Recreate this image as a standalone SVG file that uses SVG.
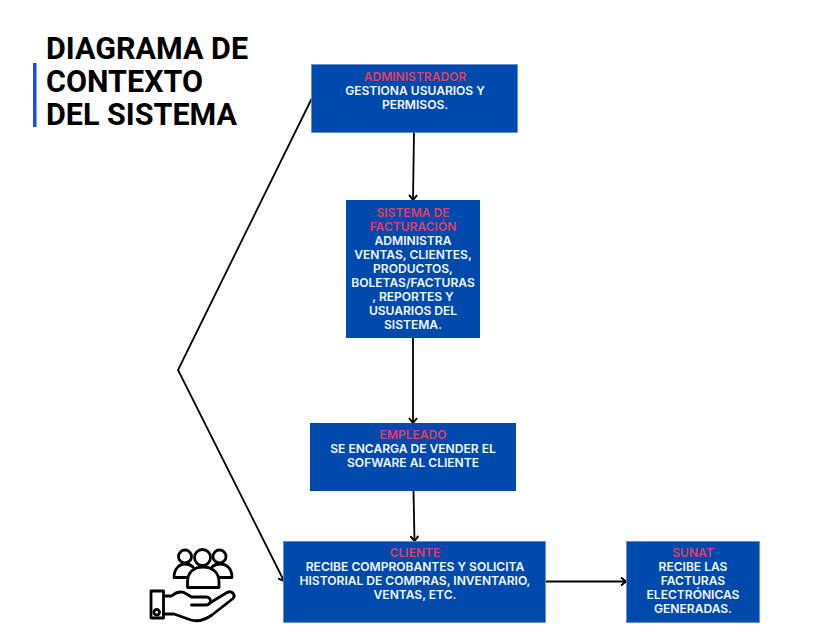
<svg xmlns="http://www.w3.org/2000/svg" width="817" height="644" viewBox="0 0 817 644">
<style>
.box{fill:#004aad;stroke:#5b8fd6;stroke-width:.8}
.t{font-family:"Inter","Noto Sans",sans-serif;font-size:12.05px;font-weight:600;text-anchor:middle;fill:#f4f7ff}
.h{fill:#df3f68}
.title{font-family:"Roboto","Liberation Sans",sans-serif;font-size:30.5px;font-weight:700;fill:#000}
.c{fill:none;stroke:#000;stroke-width:1.8;marker-end:url(#a)}
.i{fill:none;stroke:#000;stroke-width:2.8;stroke-linejoin:round;stroke-linecap:round}
</style>
<defs><marker id="a" markerUnits="userSpaceOnUse" markerWidth="9" markerHeight="10" refX="7.5" refY="5" orient="auto"><path d="M2.500 1 L7.500 5 L2.500 9" fill="none" stroke="#000" stroke-width="2"/></marker></defs>
<rect width="817" height="644" fill="#fff"/>
<g id="title">
<rect x="33" y="63" width="3.500" height="64" fill="#1f4fd8"/>
<text class="title" x="46" y="59">DIAGRAMA DE<tspan x="46" dy="33">CONTEXTO</tspan><tspan x="46" dy="33">DEL SISTEMA</tspan></text>
</g>
<g id="connectors">
<path class="c" d="M414 132 L413 200"/>
<path class="c" d="M413 338 L413 423"/>
<path class="c" d="M413.500 491 L414.500 541"/>
<path class="c" d="M546 581.500 L626 581.500"/>
<path class="c" d="M312 98 L178 370 L284 581"/>
</g>
<g id="administrador">
<rect class="box" x="311.500" y="64.500" width="206" height="68"/>
<text class="t h" x="415" y="81">ADMINISTRADOR</text>
<text class="t" x="415" y="95">GESTIONA USUARIOS Y</text>
<text class="t" x="415" y="109">PERMISOS.</text>
</g>
<g id="sistema">
<rect x="346" y="200" width="134" height="138" fill="#004aad"/>
<text class="t h" x="413" y="217">SISTEMA DE</text>
<text class="t h" x="413" y="231">FACTURACIÓN</text>
<text class="t" x="413" y="245">ADMINISTRA</text>
<text class="t" x="413" y="259">VENTAS, CLIENTES,</text>
<text class="t" x="413" y="273">PRODUCTOS,</text>
<text class="t" x="413" y="287">BOLETAS/FACTURAS</text>
<text class="t" x="413" y="301">, REPORTES Y</text>
<text class="t" x="413" y="315">USUARIOS DEL</text>
<text class="t" x="413" y="329">SISTEMA.</text>
</g>
<g id="empleado">
<rect x="310" y="423" width="206" height="68" fill="#004aad"/>
<text class="t h" x="413" y="439">EMPLEADO</text>
<text class="t" x="413" y="453">SE ENCARGA DE VENDER EL</text>
<text class="t" x="413" y="467">SOFWARE AL CLIENTE</text>
</g>
<g id="cliente">
<rect class="box" x="283.500" y="541.500" width="262" height="81"/>
<text class="t h" x="415" y="557">CLIENTE</text>
<text class="t" x="415" y="571">RECIBE COMPROBANTES Y SOLICITA</text>
<text class="t" x="415" y="585">HISTORIAL DE COMPRAS, INVENTARIO,</text>
<text class="t" x="415" y="599">VENTAS, ETC.</text>
</g>
<g id="sunat">
<rect class="box" x="626.500" y="541.500" width="133" height="81"/>
<text class="t h" x="693" y="557">SUNAT</text>
<text class="t" x="693" y="571">RECIBE LAS</text>
<text class="t" x="693" y="585">FACTURAS</text>
<text class="t" x="693" y="599">ELECTRÓNICAS</text>
<text class="t" x="693" y="613">GENERADAS.</text>
</g>
<g id="icon">
<circle class="i" cx="202.500" cy="557.500" r="8"/>
<circle class="i" cx="185" cy="556.500" r="6.500"/>
<circle class="i" cx="219.500" cy="556.500" r="6.500"/>
<path class="i" d="M187.500 587.500 H219 V582 C219 572 212 567 203 567 C194 567 187.500 572 187.500 582 Z"/>
<path class="i" d="M187.500 577.500 H174 C174 569 179 564 185 564 C188 564 191 565 193 567"/>
<path class="i" d="M219 577.500 H232 C232 569 227 564 220 564 C217 564 214 565 212 567"/>
<rect class="i" x="151" y="591" width="12.500" height="27"/>
<circle class="i" cx="156.700" cy="612.300" r="2.800"/>
<path class="i" d="M163.500 596 H171.500 C175 593 179 591 184 592.500 L191.500 597 H206 C212 597 212 605 206 605 H191.500"/>
<path class="i" d="M209 603.500 L227 592.500 C232 590 236 595 233 598.500 L212 615 C205 620 198 622 191 620 L174 614 H163.500"/>
</g>
</svg>
